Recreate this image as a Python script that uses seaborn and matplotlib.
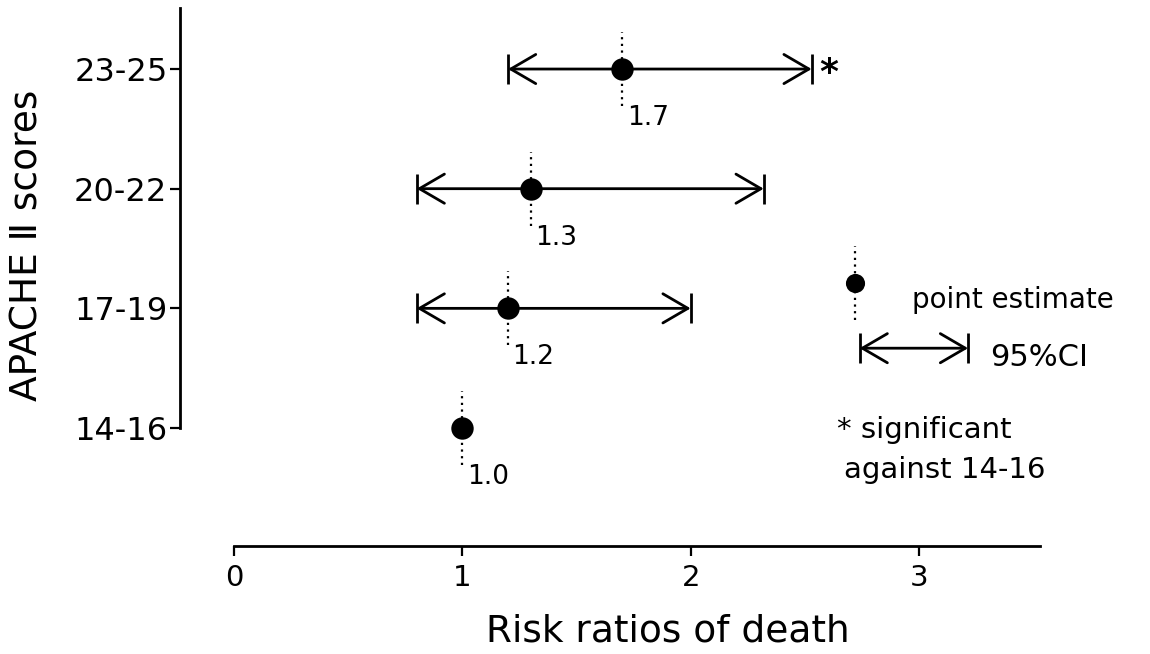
import matplotlib
matplotlib.use("Agg")
import matplotlib.pyplot as plt
import seaborn as sns
import pandas as pd

# APACHE II score groups (bottom to top) and risk ratios of death
groups = ["14-16", "17-19", "20-22", "23-25"]
risk_ratio = [1.0, 1.2, 1.3, 1.7]
ci_low = [None, 0.8, 0.8, 1.2]
ci_high = [None, 2.0, 2.32, 2.53]
significant = [False, False, False, True]
x_ticks = [0, 1, 2, 3]

sns.set_style("ticks")
plt.rcParams["font.family"] = ["DejaVu Sans", "Noto Sans CJK JP"]
plt.rcParams["text.color"] = "black"
plt.rcParams["axes.labelcolor"] = "black"

fig = plt.figure(figsize=(11.5, 6.54), dpi=100)
ax = fig.add_axes([180 / 1150, 1 - 546 / 654, 860 / 1150, 538 / 654])

df = pd.DataFrame({"group": groups, "rr": risk_ratio,
                   "pos": list(range(len(groups)))})

lw = 2.0
arrow = "<->,head_length=1.8,head_width=1.05"
# confidence intervals: line with open arrowheads and end bars
for pos, lo, hi in zip(df["pos"], ci_low, ci_high):
    if lo is None:
        continue
    ax.annotate("", xy=(lo, pos), xytext=(hi, pos),
                arrowprops=dict(arrowstyle=arrow, lw=lw, color="black",
                                shrinkA=0, shrinkB=0))
    ax.vlines([lo, hi], pos - 0.125, pos + 0.125, color="black", lw=lw)

# dotted guide through each point estimate
ax.vlines(df["rr"], df["pos"] - 0.31, df["pos"] + 0.31, color="black",
          lw=1.6, linestyles=(0, (1, 2)))

sns.scatterplot(data=df, x="rr", y="pos", color="black", s=260,
                edgecolor="black", linewidth=0, ax=ax, zorder=5, legend=False)

# value labels
for rr, pos in zip(df["rr"], df["pos"]):
    ax.text(rr + 0.02, pos - 0.41, f"{rr:.1f}", fontsize=19,
            ha="left", va="center")

for pos, hi, sig in zip(df["pos"], ci_high, significant):
    if sig:
        ax.text(hi + 0.035, pos - 0.03, "*", fontsize=26, ha="left",
                va="center", fontweight="bold")

# key
key_x, key_y = 2.72, 1.21
ax.vlines([key_x], key_y - 0.31, key_y + 0.31, color="black", lw=1.6,
          linestyles=(0, (1, 2)))
ax.scatter([key_x], [key_y], color="black", s=190, linewidth=0, zorder=5)
ax.text(2.97, 1.07, "point estimate", fontsize=20, ha="left", va="center")

ax.annotate("", xy=(2.74, 0.667), xytext=(3.215, 0.667),
            arrowprops=dict(arrowstyle=arrow, lw=lw, color="black",
                            shrinkA=0, shrinkB=0))
ax.vlines([2.74, 3.215], 0.667 - 0.125, 0.667 + 0.125, color="black", lw=lw)
ax.text(3.31, 0.59, "95%CI", fontsize=22, ha="left", va="center")
ax.text(2.64, -0.02, "* significant", fontsize=21, ha="left", va="center")
ax.text(2.67, -0.35, "against 14-16", fontsize=21, ha="left", va="center")

# axes
ax.set_xlim(-0.2365, 3.53)
ax.set_ylim(-0.986, 3.51)
ax.set_xticks(x_ticks)
ax.set_xticklabels([str(t) for t in x_ticks], fontsize=21)
ax.set_yticks(df["pos"])
ax.set_yticklabels(groups, fontsize=23)
ax.spines["top"].set_visible(False)
ax.spines["right"].set_visible(False)
ax.spines["left"].set_bounds(0, 3.51)
ax.spines["bottom"].set_bounds(0, 3.53)
for s in ("left", "bottom"):
    ax.spines[s].set_linewidth(2)
    ax.spines[s].set_color("black")
ax.tick_params(axis="both", direction="out", length=7, width=1.6,
               color="black", labelcolor="black", pad=2)
ax.tick_params(axis="x", pad=6)

ax.set_xlabel("Risk ratios of death", fontsize=27)
ax.set_ylabel("APACHE Ⅱ scores", fontsize=27)
ax.xaxis.set_label_coords((668 - 180) / 860, (546 - 632) / 538)
ax.yaxis.set_label_coords((28 - 180) / 860, (546 - 245) / 538)
ax.xaxis.label.set_va("center")
ax.yaxis.label.set_va("center")

fig.savefig("out.png", dpi=100, facecolor="white")
